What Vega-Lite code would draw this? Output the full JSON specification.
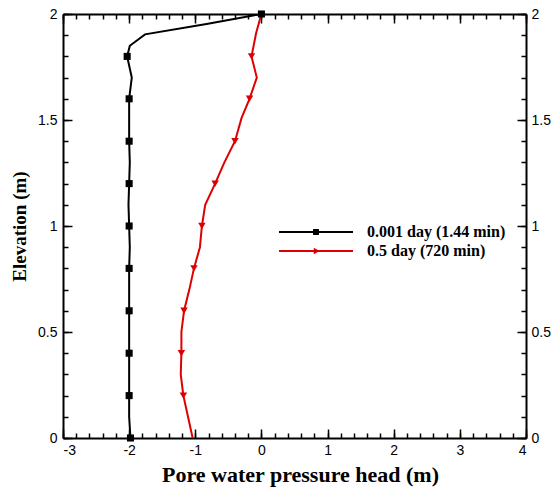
{
  "$schema": "https://vega.github.io/schema/vega-lite/v6.json",
  "width": 463,
  "height": 424,
  "autosize": "none",
  "padding": {"left": 63, "top": 14, "right": 30, "bottom": 52},
  "background": "white",
  "config": {
    "view": {"stroke": null},
    "axis": {
      "grid": false,
      "domainColor": "black",
      "domainWidth": 2,
      "tickColor": "black",
      "tickWidth": 1.5,
      "labelFont": "Liberation Sans",
      "labelFontSize": 14,
      "labelColor": "black",
      "titleFont": "Liberation Serif",
      "titleFontSize": 22,
      "titleFontWeight": "bold",
      "titleColor": "black"
    }
  },
  "data": {
    "values": [
      {"series": "0.001 day (1.44 min)", "x": 0.0, "y": 2.0, "marker": true},
      {"series": "0.001 day (1.44 min)", "x": -0.83, "y": 1.953, "marker": false},
      {"series": "0.001 day (1.44 min)", "x": -1.76, "y": 1.904, "marker": false},
      {"series": "0.001 day (1.44 min)", "x": -1.99, "y": 1.85, "marker": false},
      {"series": "0.001 day (1.44 min)", "x": -2.03, "y": 1.8, "marker": true},
      {"series": "0.001 day (1.44 min)", "x": -1.96, "y": 1.7, "marker": false},
      {"series": "0.001 day (1.44 min)", "x": -2.0, "y": 1.6, "marker": true},
      {"series": "0.001 day (1.44 min)", "x": -2.0, "y": 1.5, "marker": false},
      {"series": "0.001 day (1.44 min)", "x": -2.0, "y": 1.4, "marker": true},
      {"series": "0.001 day (1.44 min)", "x": -1.99, "y": 1.3, "marker": false},
      {"series": "0.001 day (1.44 min)", "x": -2.0, "y": 1.2, "marker": true},
      {"series": "0.001 day (1.44 min)", "x": -2.01, "y": 1.1, "marker": false},
      {"series": "0.001 day (1.44 min)", "x": -2.0, "y": 1.0, "marker": true},
      {"series": "0.001 day (1.44 min)", "x": -1.99, "y": 0.9, "marker": false},
      {"series": "0.001 day (1.44 min)", "x": -2.0, "y": 0.8, "marker": true},
      {"series": "0.001 day (1.44 min)", "x": -2.0, "y": 0.7, "marker": false},
      {"series": "0.001 day (1.44 min)", "x": -2.0, "y": 0.6, "marker": true},
      {"series": "0.001 day (1.44 min)", "x": -2.0, "y": 0.5, "marker": false},
      {"series": "0.001 day (1.44 min)", "x": -2.0, "y": 0.4, "marker": true},
      {"series": "0.001 day (1.44 min)", "x": -2.0, "y": 0.3, "marker": false},
      {"series": "0.001 day (1.44 min)", "x": -2.0, "y": 0.2, "marker": true},
      {"series": "0.001 day (1.44 min)", "x": -2.0, "y": 0.1, "marker": false},
      {"series": "0.001 day (1.44 min)", "x": -1.98, "y": 0.0, "marker": true},
      {"series": "0.5 day (720 min)", "x": 0.0, "y": 2.0, "marker": false},
      {"series": "0.5 day (720 min)", "x": -0.08, "y": 1.91, "marker": false},
      {"series": "0.5 day (720 min)", "x": -0.15, "y": 1.8, "marker": true},
      {"series": "0.5 day (720 min)", "x": -0.07, "y": 1.7, "marker": false},
      {"series": "0.5 day (720 min)", "x": -0.18, "y": 1.6, "marker": true},
      {"series": "0.5 day (720 min)", "x": -0.3, "y": 1.51, "marker": false},
      {"series": "0.5 day (720 min)", "x": -0.4, "y": 1.4, "marker": true},
      {"series": "0.5 day (720 min)", "x": -0.56, "y": 1.3, "marker": false},
      {"series": "0.5 day (720 min)", "x": -0.7, "y": 1.2, "marker": true},
      {"series": "0.5 day (720 min)", "x": -0.85, "y": 1.1, "marker": false},
      {"series": "0.5 day (720 min)", "x": -0.9, "y": 1.0, "marker": true},
      {"series": "0.5 day (720 min)", "x": -0.93, "y": 0.9, "marker": false},
      {"series": "0.5 day (720 min)", "x": -1.02, "y": 0.8, "marker": true},
      {"series": "0.5 day (720 min)", "x": -1.09, "y": 0.7, "marker": false},
      {"series": "0.5 day (720 min)", "x": -1.17, "y": 0.6, "marker": true},
      {"series": "0.5 day (720 min)", "x": -1.21, "y": 0.5, "marker": false},
      {"series": "0.5 day (720 min)", "x": -1.21, "y": 0.4, "marker": true},
      {"series": "0.5 day (720 min)", "x": -1.22, "y": 0.3, "marker": false},
      {"series": "0.5 day (720 min)", "x": -1.18, "y": 0.2, "marker": true},
      {"series": "0.5 day (720 min)", "x": -1.11, "y": 0.1, "marker": false},
      {"series": "0.5 day (720 min)", "x": -1.04, "y": 0.0, "marker": false}
    ]
  },
  "resolve": {"axis": {"x": "independent", "y": "independent"}},
  "layer": [
    {
      "transform": [{"filter": "datum.series == '0.001 day (1.44 min)'"}],
      "mark": {"type": "line", "strokeWidth": 2, "color": "black", "clip": true},
      "encoding": {
        "x": {"field": "x", "type": "quantitative", "scale": {"domain": [-3, 4], "nice": false, "zero": false},
          "axis": {"orient": "bottom", "title": "Pore water pressure head (m)", "values": [-3, -2, -1, 0, 1, 2, 3, 4], "tickSize": -9, "labelPadding": 14, "labelExpr": "toString(datum.value)", "titlePadding": 7, "titleX": 237}},
        "y": {"field": "y", "type": "quantitative", "scale": {"domain": [0, 2], "nice": false, "zero": false},
          "axis": {"orient": "left", "title": "Elevation (m)", "values": [0, 0.5, 1, 1.5, 2], "tickSize": -9, "labelPadding": 15, "labelExpr": "toString(datum.value)", "titlePadding": 8, "titleFontSize": 19}},
        "order": {"field": "y", "type": "quantitative", "sort": "descending"}
      }
    },
    {
      "transform": [{"filter": "datum.series == '0.5 day (720 min)'"}],
      "mark": {"type": "line", "strokeWidth": 2, "color": "#dd0000", "clip": true},
      "encoding": {
        "x": {"field": "x", "type": "quantitative", "axis": null},
        "y": {"field": "y", "type": "quantitative", "axis": null},
        "order": {"field": "y", "type": "quantitative", "sort": "descending"}
      }
    },
    {
      "transform": [{"filter": "datum.marker && datum.series == '0.001 day (1.44 min)'"}],
      "mark": {"type": "point", "shape": "square", "filled": true, "size": 50, "color": "black", "opacity": 1},
      "encoding": {
        "x": {"field": "x", "type": "quantitative",
          "axis": {"orient": "top", "title": null, "labels": false, "values": [-3, -2, -1, 0, 1, 2, 3, 4], "tickSize": -9}},
        "y": {"field": "y", "type": "quantitative",
          "axis": {"orient": "right", "title": null, "values": [0, 0.5, 1, 1.5, 2], "tickSize": -9, "labelPadding": 14, "labelExpr": "toString(datum.value)"}}
      }
    },
    {
      "transform": [{"filter": "datum.marker && datum.series == '0.5 day (720 min)'"}],
      "mark": {"type": "point", "shape": "triangle-down", "filled": true, "size": 55, "color": "#dd0000", "opacity": 1},
      "encoding": {
        "x": {"field": "x", "type": "quantitative",
          "axis": {"orient": "bottom", "title": null, "labels": false, "domain": false, "values": [-3, -2.8, -2.6, -2.4, -2.2, -2, -1.8, -1.6, -1.4, -1.2, -1, -0.8, -0.6, -0.4, -0.2, 0, 0.2, 0.4, 0.6, 0.8, 1, 1.2, 1.4, 1.6, 1.8, 2, 2.2, 2.4, 2.6, 2.8, 3, 3.2, 3.4, 3.6, 3.8, 4], "tickSize": -5}},
        "y": {"field": "y", "type": "quantitative",
          "axis": {"orient": "left", "title": null, "labels": false, "domain": false, "values": [0, 0.1, 0.2, 0.3, 0.4, 0.5, 0.6, 0.7, 0.8, 0.9, 1, 1.1, 1.2, 1.3, 1.4, 1.5, 1.6, 1.7, 1.8, 1.9, 2], "tickSize": -5}}
      }
    },
    {
      "transform": [{"filter": "false"}],
      "mark": {"type": "point", "filled": true, "size": 219, "opacity": 1},
      "encoding": {
        "x": {"field": "x", "type": "quantitative",
          "axis": {"orient": "top", "title": null, "labels": false, "domain": false, "values": [-3, -2.8, -2.6, -2.4, -2.2, -2, -1.8, -1.6, -1.4, -1.2, -1, -0.8, -0.6, -0.4, -0.2, 0, 0.2, 0.4, 0.6, 0.8, 1, 1.2, 1.4, 1.6, 1.8, 2, 2.2, 2.4, 2.6, 2.8, 3, 3.2, 3.4, 3.6, 3.8, 4], "tickSize": -5}},
        "y": {"field": "y", "type": "quantitative",
          "axis": {"orient": "right", "title": null, "labels": false, "domain": false, "values": [0, 0.1, 0.2, 0.3, 0.4, 0.5, 0.6, 0.7, 0.8, 0.9, 1, 1.1, 1.2, 1.3, 1.4, 1.5, 1.6, 1.7, 1.8, 1.9, 2], "tickSize": -5}},
        "fill": {"field": "series", "type": "nominal", "title": null,
          "scale": {"domain": ["0.001 day (1.44 min)", "0.5 day (720 min)"], "range": ["black", "#dd0000"]},
          "legend": {"orient": "none", "legendX": 245, "legendY": 210, "padding": 0, "symbolSize": 219, "symbolStrokeWidth": 0, "symbolOpacity": 1, "labelOffset": 43, "rowPadding": 3, "labelFont": "Liberation Serif", "labelFontWeight": "bold", "labelFontSize": 16, "labelColor": "black", "labelLimit": 300}},
        "shape": {"field": "series", "type": "nominal", "title": null,
          "scale": {"domain": ["0.001 day (1.44 min)", "0.5 day (720 min)"], "range": ["M -5 -0.14 H 5 V 0.14 H -5 Z M -0.4 -0.4 H 0.4 V 0.4 H -0.4 Z", "M -5 -0.14 H 5 V 0.14 H -5 Z M -0.3 -0.45 L 0.5 0 L -0.3 0.45 Z"]},
          "legend": {"orient": "none", "legendX": 245, "legendY": 210, "padding": 0, "symbolSize": 219, "symbolStrokeWidth": 0, "symbolOpacity": 1, "labelOffset": 43, "rowPadding": 3, "labelFont": "Liberation Serif", "labelFontWeight": "bold", "labelFontSize": 16, "labelColor": "black", "labelLimit": 300}}
      }
    }
  ]
}
